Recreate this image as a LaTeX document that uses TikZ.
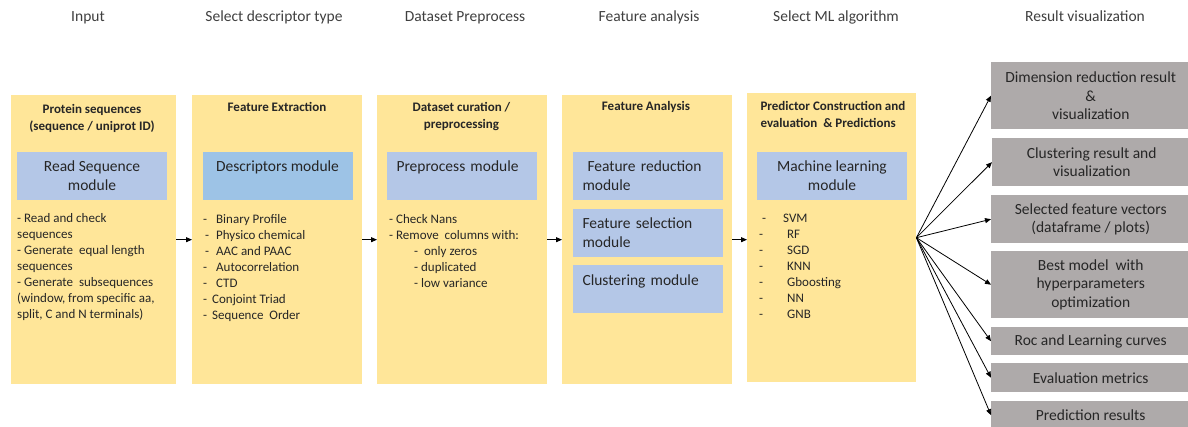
\documentclass[tikz,border=0pt]{standalone}
\usepackage{fontspec}
\setmainfont{Carlito}
\usetikzlibrary{arrows.meta}

\definecolor{colfill}{HTML}{FFE699}
\definecolor{modfill}{HTML}{B4C7E7}
\definecolor{descfill}{HTML}{9DC3E6}
\definecolor{resfill}{HTML}{AEAAAA}
\definecolor{ink}{HTML}{262626}
\definecolor{headgrey}{HTML}{3F3F3F}

\begin{document}
\begin{tikzpicture}[x=1pt, y=-1pt, every node/.style={text=ink},
    stagebox/.style={fill=colfill, anchor=north west, inner sep=0pt, minimum width=165pt, minimum height=289pt},
    coltitle/.style={font=\fontsize{13}{16.5}\selectfont\bfseries, align=center},
    heading/.style={font=\fontsize{15.5}{19}\selectfont, text=headgrey, anchor=base},
    module/.style={fill=modfill, inner sep=0pt, minimum width=150pt, minimum height=48pt, font=\fontsize{15.5}{19}\selectfont, align=center},
    modleft/.style={module, text width=130pt, align=left},
    topline/.style={text depth=19pt},
    itemlist/.style={font=\fontsize{13}{16}\selectfont, align=left, anchor=north west, inner sep=0pt},
    result/.style={fill=resfill, anchor=north west, inner sep=0pt, minimum width=199pt, font=\fontsize{15.5}{18.5}\selectfont, align=center},
    flow/.style={-{Triangle[length=6pt,width=5pt]}, line width=0.8pt}]
    \useasboundingbox (0,0) rectangle (1188,427);

    % step headings
    \node[heading] (h1) at (88,22) {Input};
    \node[heading] (h2) at (274,22) {Select descriptor type};
    \node[heading] (h3) at (465,22) {Dataset Preprocess};
    \node[heading] (h4) at (649,22) {Feature analysis};
    \node[heading] (h5) at (836,22) {Select ML algorithm};
    \node[heading] (h6) at (1085,22) {Result visualization};

    % yellow stages
    \node[stagebox] (c1) at (11,95) {};
    \node[stagebox, minimum width=170pt] (c2) at (192,95) {};
    \node[stagebox, minimum width=170pt] (c3) at (377,95) {};
    \node[stagebox, minimum width=170pt] (c4) at (562,95) {};
    \node[stagebox, minimum width=169pt] (c5) at (747,93) {};

    \node[coltitle] (t1) at (92,118.5) {Protein sequences\\(sequence / uniprot ID)};
    \node[coltitle] (t2) at (277,107) {Feature Extraction};
    \node[coltitle] (t3) at (461.5,116.5) {Dataset curation /\\preprocessing};
    \node[coltitle] (t4) at (646,107) {Feature Analysis};
    \node[coltitle, align=left, anchor=west] (t5) at (757,114.5) {Predictor Construction and\\evaluation\ \ \& Predictions};

    % modules
    \node[module] (read) at (92,176) {Read Sequence\\module};
    \node[module, topline, fill=descfill] (desc) at (277.5,176) {Descriptors module};
    \node[modleft, topline] (prep) at (461.5,176) {Preprocess module};
    \node[modleft] (fred) at (647.5,176) {\hspace*{5pt}Feature reduction\\module};
    \node[modleft] (fsel) at (647.5,233) {Feature selection\\module};
    \node[modleft, topline] (clus) at (647.5,289.5) {Clustering module};
    \node[module] (ml) at (832,176) {Machine learning\\module};

    % what each module does
    \node[itemlist] (l1) at (17,213.5) {- Read and check\\sequences\\- Generate\ \ equal length\\sequences\\- Generate\ \ subsequences\\(window, from specific aa,\\split, C and N terminals)};
    \node[itemlist] (l2) at (203,214) {-\hspace{9pt}Binary Profile\\\hspace*{2pt}-\hspace{7pt}Physico chemical\\\hspace*{2pt}-\hspace{7pt}AAC and PAAC\\-\hspace{9pt}Autocorrelation\\-\hspace{9pt}CTD\\-\hspace{5pt}Conjoint Triad\\-\hspace{5pt}Sequence\ \ Order};
    \node[itemlist] (l3) at (389,214) {- Check Nans\\- Remove\ \ columns with:\\\hspace*{25pt}-\ \ only zeros\\\hspace*{25pt}- duplicated\\\hspace*{25pt}- low variance};
    \node[itemlist] (l5) at (759,214) {\hspace*{3pt}-\hspace{17pt}SVM\\-\hspace{24pt}RF\\-\hspace{24pt}SGD\\-\hspace{24pt}KNN\\-\hspace{24pt}Gboosting\\-\hspace{24pt}NN\\-\hspace{24pt}GNB};

    % grey outputs
    \node[result, minimum height=67pt] (r1) at (991,62) {Dimension reduction result\\\&\\visualization};
    \node[result, minimum height=48pt] (r2) at (992,138) {Clustering result and\\visualization};
    \node[result, minimum height=48pt] (r3) at (991,195) {Selected feature vectors\\(dataframe / plots)};
    \node[result, minimum height=67pt] (r4) at (991,251) {Best model\ \ with\\hyperparameters\\optimization};
    \node[result, minimum height=28pt] (r5) at (991,327) {Roc and Learning curves};
    \node[result, minimum height=29pt] (r6) at (991,363) {Evaluation metrics};
    \node[result, minimum height=28pt] (r7) at (991,401) {Prediction results};

    % pipeline arrows
    \draw[flow] (c1.east) -- (c1.east -| c2.west);
    \draw[flow] (c2.east) -- (c2.east -| c3.west);
    \draw[flow] (c3.east) -- (c3.east -| c4.west);
    \draw[flow] (c4.east) -- (c4.east -| c5.west);

    \coordinate (fan) at (c5.east);
    \draw[flow] (fan) -- (r1.west);
    \draw[flow] (fan) -- (r2.west);
    \draw[flow] (fan) -- (r3.west);
    \draw[flow] (fan) -- (r4.west);
    \draw[flow] (fan) -- (r5.west);
    \draw[flow] (fan) -- (r6.west);
    \draw[flow] (fan) -- (r7.west);
\end{tikzpicture}
\end{document}
